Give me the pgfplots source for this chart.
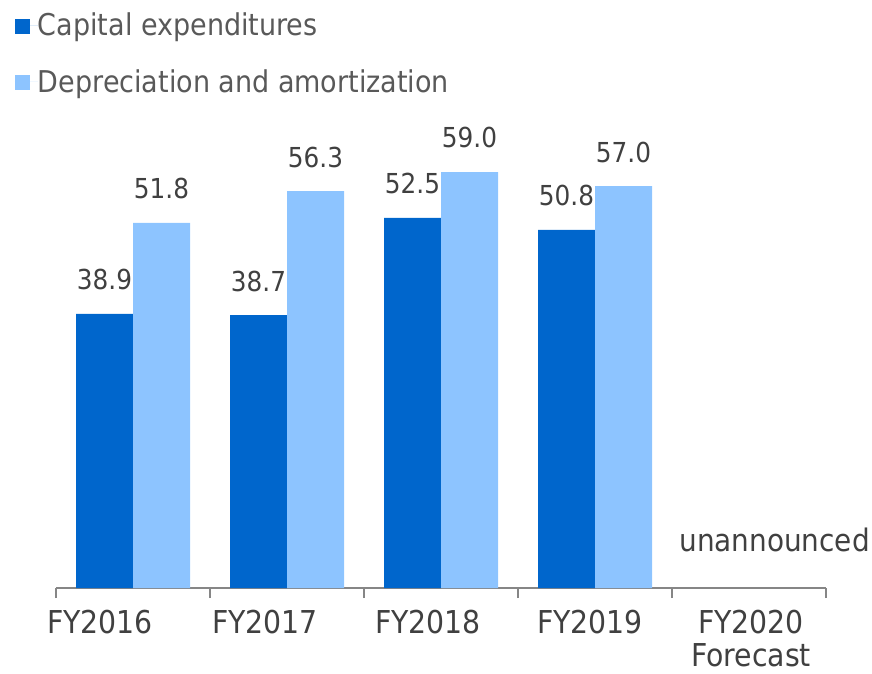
\documentclass[border=0pt]{standalone}
\usepackage{pgfplots}
\pgfplotsset{compat=1.18}
\usepackage{fontspec}
\setmainfont{DejaVu Sans Condensed}
\definecolor{capex}{RGB}{0,102,204}
\definecolor{depam}{RGB}{141,196,255}
\definecolor{txtgray}{RGB}{64,64,64}
\definecolor{leggray}{RGB}{89,89,89}
\definecolor{axgray}{RGB}{134,134,134}
\begin{document}
\begin{tikzpicture}
\path[use as bounding box] (0,0) rectangle (872pt,673pt);
\begin{axis}[
  at={(56pt,85pt)}, anchor=south west,
  scale only axis, width=770pt, height=493.5pt,
  xmin=-0.5, xmax=4.5, ymin=0, ymax=70,
  axis x line*=bottom, axis y line=none,
  x axis line style={draw=axgray, line width=2pt},
  xtick={-0.5,0.5,1.5,2.5,3.5,4.5},
  xticklabels={,,,,,},
  tick align=outside, major tick length=10pt,
  x tick style={draw=axgray, line width=2pt},
  extra x ticks={-0.214,0.857,1.916,2.968,4.013},
  extra x tick labels={FY2016,FY2017,FY2018,FY2019,{FY2020\\Forecast}},
  extra x tick style={major tick length=0pt,
    tick label style={font=\fontsize{31.5}{32.5}\selectfont, text=txtgray, align=center, inner sep=0pt, anchor=north, yshift=-22pt}},
  ybar=0pt, bar width=57pt,
  clip=false,
  nodes near coords,
  /pgf/number format/.cd, fixed, fixed zerofill, precision=1, assume math mode=true,
  /pgfplots/.cd,
  every node near coord/.append style={font=\fontsize{27.5}{28}\selectfont, text=txtgray, inner sep=0pt, anchor=south, yshift=23.5pt},
  legend style={at={(-0.05325,1.1652)}, anchor=north west, draw=none, fill=none,
    inner sep=0pt, outer sep=0pt, row sep=32pt, column sep=0pt,
    font=\fontsize{30}{30}\selectfont, text=leggray,
    nodes={inner sep=0pt, text=leggray}},
  legend cell align=left,
  legend image code/.code={\fill[#1] (0pt,-9pt) rectangle (15pt,6pt); \path[draw=none] (0pt,0pt) -- (23pt,0pt);},
]
\addplot[fill=capex, draw=none] coordinates {(0,38.9) (1,38.7) (2,52.5) (3,50.8)};
\addlegendentry{Capital expenditures}
\addplot[fill=depam, draw=none] coordinates {(0,51.8) (1,56.3) (2,59.0) (3,57.0)};
\addlegendentry{Depreciation and amortization}
\node[anchor=base east, inner sep=0pt, font=\fontsize{31}{31}\selectfont, text=txtgray] at (axis cs:4.786,5.11) {unannounced};
\end{axis}
\end{tikzpicture}
\end{document}
